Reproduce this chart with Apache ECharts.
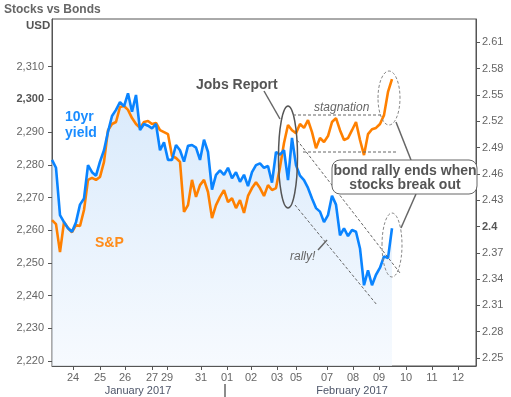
<!DOCTYPE html>
<html>
<head>
<meta charset="utf-8">
<script src="https://cdn.jsdelivr.net/npm/echarts@6/dist/echarts.min.js"></script>
<style>
  html, body { margin: 0; padding: 0; background: #fff; }
  #chart { width: 511px; height: 397px; }
</style>
</head>
<body>
<div id="chart"></div>
<script>
// x axis: trading-time steps, one step per sample
const tickPos = [5.25, 12, 18.25, 25, 28.75, 37.25, 43.75, 49.75, 56.25, 61, 68.75, 75.25, 81.75, 88.5, 95, 101.5];
const tickLabels = ['24', '25', '26', '27', '29', '31', '01', '02', '03', '05', '07', '08', '09', '10', '11', '12'];
const monthLabels = ['January 2017', 'February 2017'];

// S&P 500 (left axis, USD)
const spx = [
  2263.1, 2261.9, 2253.3, 2262.5, 2260.7, 2259.4, 2261.6, 2261.3, 2266.2, 2275.4,
  2276.0, 2275.4, 2276.3, 2280.9, 2290.6, 2292.5, 2293.1, 2297.7, 2298.0, 2296.8,
  2294.3, 2292.5, 2291.3, 2293.1, 2293.4, 2292.5, 2292.8, 2290.6, 2290.0, 2289.4,
  2282.7, 2282.1, 2280.9, 2265.6, 2267.7, 2275.4, 2270.2, 2273.8, 2275.4, 2271.7,
  2263.7, 2267.7, 2270.2, 2272.3, 2268.6, 2269.8, 2266.8, 2269.2, 2265.3, 2270.5,
  2272.9, 2274.7, 2272.9, 2270.5, 2273.8, 2272.3, 2272.9, 2279.3, 2286.7, 2292.2,
  2290.6, 2289.7, 2292.5, 2291.3, 2293.7, 2290.0, 2285.1, 2288.2, 2287.0, 2288.8,
  2293.1, 2294.3, 2290.6, 2287.6, 2288.2, 2290.6, 2293.1, 2287.6, 2283.0, 2289.4,
  2290.9, 2291.3, 2292.5, 2295.2, 2302.3, 2306.2
];

// 10yr yield (right axis, %)
const yld = [
  2.476, 2.467, 2.413, 2.405, 2.398, 2.394, 2.405, 2.425, 2.432, 2.470,
  2.462, 2.458, 2.474, 2.487, 2.508, 2.526, 2.533, 2.542, 2.537, 2.552,
  2.531, 2.550, 2.510, 2.517, 2.515, 2.512, 2.517, 2.487, 2.496, 2.476,
  2.476, 2.493, 2.487, 2.474, 2.492, 2.493, 2.490, 2.476, 2.499, 2.485,
  2.442, 2.459, 2.464, 2.459, 2.467, 2.455, 2.462, 2.451, 2.459, 2.446,
  2.462, 2.470, 2.472, 2.467, 2.469, 2.450, 2.485, 2.482, 2.487, 2.453,
  2.501, 2.470, 2.458, 2.453, 2.444, 2.432, 2.421, 2.417, 2.405, 2.413,
  2.435, 2.425, 2.390, 2.398, 2.389, 2.396, 2.394, 2.375, 2.333, 2.350,
  2.333, 2.345, 2.353, 2.366, 2.364, 2.398
];

const spxTicks = [2220, 2230, 2240, 2250, 2260, 2270, 2280, 2290, 2300, 2310];
const yieldTicks = [2.25, 2.28, 2.31, 2.34, 2.37, 2.4, 2.43, 2.46, 2.49, 2.52, 2.55, 2.58, 2.61];

const FONT = '"Liberation Sans", Arial, sans-serif';
const AXIS = '#555';
const NOTE = '#555';

const chart = echarts.init(document.getElementById('chart'));

const spxData = spx.map((v, i) => [i, v]);
const yldData = yld.map((v, i) => [i, v]);

function note(text, x, y, opts) {
  return {
    type: 'text', z: 100,
    style: Object.assign({
      text: text, x: x, y: y,
      fontFamily: FONT, fontSize: 14, fontWeight: 'bold', fill: NOTE,
      textAlign: 'left', textVerticalAlign: 'middle'
    }, opts || {})
  };
}
function seg(x1, y1, x2, y2, dashed) {
  return {
    type: 'line', z: 100,
    shape: { x1: x1, y1: y1, x2: x2, y2: y2 },
    style: { stroke: '#666', lineWidth: dashed ? 1 : 1.5, lineDash: dashed ? [3, 2] : null }
  };
}
function oval(cx, cy, rx, ry, dashed) {
  return {
    type: 'ellipse', z: 100,
    shape: { cx: cx, cy: cy, rx: rx, ry: ry },
    style: { fill: null, stroke: dashed ? '#888' : '#555', lineWidth: dashed ? 1 : 1.5, lineDash: dashed ? [3, 2] : null }
  };
}

const option = {
  animation: false,
  backgroundColor: '#fff',
  textStyle: { fontFamily: FONT },
  grid: {
    left: 52, right: 35, top: 19, bottom: 31,
    show: true, borderColor: AXIS, borderWidth: 1
  },
  xAxis: {
    type: 'value',
    min: 0,
    max: 106,
    splitLine: { show: false },
    axisLine: { lineStyle: { color: AXIS } },
    axisTick: { customValues: tickPos, length: 4, lineStyle: { color: AXIS } },
    axisLabel: {
      customValues: tickPos,
      margin: 6,
      color: '#666',
      fontSize: 11,
      formatter: v => tickLabels[tickPos.indexOf(v)] || ''
    }
  },
  yAxis: [
    {
      type: 'value',
      position: 'left',
      min: 2218.5,
      max: 2324.6,
      splitLine: { show: false },
      axisLine: { show: true, lineStyle: { color: AXIS } },
      axisTick: { show: true, customValues: spxTicks, length: 4, lineStyle: { color: AXIS } },
      axisLabel: {
        customValues: spxTicks,
        color: '#666',
        fontSize: 11,
        formatter: v => {
          const s = v.toLocaleString('en-US');
          return v === 2300 ? '{b|' + s + '}' : s;
        },
        rich: { b: { fontWeight: 'bold', fontSize: 11, color: '#555' } }
      }
    },
    {
      type: 'value',
      position: 'right',
      min: 2.2409,
      max: 2.6367,
      splitLine: { show: false },
      axisLine: { show: true, lineStyle: { color: AXIS } },
      axisTick: { show: true, customValues: yieldTicks, length: 4, lineStyle: { color: AXIS } },
      axisLabel: {
        customValues: yieldTicks,
        margin: 6,
        color: '#666',
        fontSize: 11,
        formatter: v => v === 2.4 ? '{b|2.4}' : String(v),
        rich: { b: { fontWeight: 'bold', fontSize: 11, color: '#555' } }
      }
    }
  ],
  series: [
    {
      name: 'yield area',
      type: 'line',
      yAxisIndex: 1,
      data: yldData,
      showSymbol: false,
      lineStyle: { width: 0 },
      areaStyle: {
        origin: 'start',
        color: new echarts.graphic.LinearGradient(0, 0, 0, 1, [
          { offset: 0, color: '#c9e1fa' },
          { offset: 1, color: '#f3f8fe' }
        ])
      },
      z: 1
    },
    {
      name: 'S&P',
      type: 'line',
      yAxisIndex: 0,
      data: spxData,
      showSymbol: false,
      lineStyle: { color: '#ff8000', width: 2.6 },
      z: 2
    },
    {
      name: '10yr yield',
      type: 'line',
      yAxisIndex: 1,
      data: yldData,
      showSymbol: false,
      lineStyle: { color: '#0a84ff', width: 2.6 },
      z: 3
    }
  ],
  graphic: [
    note('Stocks vs Bonds', 4, 10, { fontSize: 12, fill: '#666' }),
    note('USD', 26, 26, { fontSize: 11.5, fill: '#555' }),
    note('10yr', 65, 117, { fill: '#1a8cff' }),
    note('yield', 65, 133, { fill: '#1a8cff' }),
    note('S&P', 95, 243, { fill: '#ff8c1a' }),
    note('Jobs Report', 196, 85),
    seg(264, 91, 280, 119, false),
    oval(288, 157, 9.5, 51, false),
    note('stagnation', 314, 108, { fontSize: 12, fontWeight: 'normal', fontStyle: 'italic', fill: '#666' }),
    seg(293, 115, 383, 115, true),
    seg(303, 152, 398, 152, true),
    seg(297, 140, 400, 273, true),
    seg(295, 205, 377, 305, true),
    note('rally!', 290, 257, { fontSize: 12, fontWeight: 'normal', fontStyle: 'italic', fill: '#666' }),
    seg(318, 250, 327, 240, false),
    oval(389, 98, 11, 27, true),
    oval(392, 245, 10, 32, true),
    seg(396, 122, 411, 160, false),
    seg(416, 194, 401, 228, false),
    {
      type: 'rect', z: 101,
      shape: { x: 332, y: 160, width: 145, height: 34, r: 8 },
      style: { fill: '#fff', stroke: '#666', lineWidth: 1 }
    },
    Object.assign(note('bond rally ends when', 405, 171, { textAlign: 'center' }), { z: 102 }),
    Object.assign(note('stocks break out', 405, 185, { textAlign: 'center' }), { z: 102 }),
    note(monthLabels[0], 138, 391, { fontSize: 11, fontWeight: 'normal', fill: '#4e566a', textAlign: 'center' }),
    note(monthLabels[1], 352, 391, { fontSize: 11, fontWeight: 'normal', fill: '#4e566a', textAlign: 'center' }),
    seg(225, 384, 225, 397, false)
  ]
};

chart.setOption(option);
</script>
</body>
</html>
